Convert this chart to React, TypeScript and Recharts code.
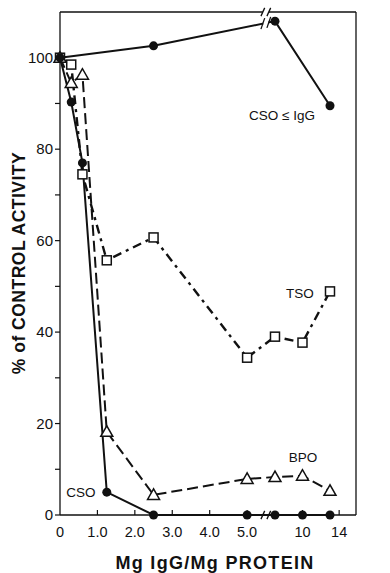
import { LineChart, Line, XAxis, YAxis, ReferenceLine } from 'recharts';

const FONT = '"Liberation Sans", Arial, Helvetica, sans-serif';
const INK = '#111';

// CSO + pre-immune IgG (control)
const csoIgGDose = [0, 2.5, 7, 13];
const csoIgGActivity = [100, 102.6, 108, 89.5];

// mg IgG / mg protein
const dose = [0, 0.3, 0.6, 1.25, 2.5, 5, 7, 10, 13];
const csoActivity = [100, 90.3, 77, 5, 0, 0, 0, 0, 0];
const bpoActivity = [100, 94.5, 96.3, 18.2, 4.4, 7.9, 8.3, 8.6, 5.3];
const tsoActivity = [100, 98.5, 74.5, 55.7, 60.7, 34.4, 39, 37.7, 48.9];

const xTicks = [0, 1, 2, 3, 4, 5, 10, 14];
const xTickLabels = ['0', '1.0', '2.0', '3.0', '4.0', '5.0', '10', '14'];
const topTicks = [1, 2, 3, 4, 5, 10];
const yTicks = [0, 10, 20, 30, 40, 50, 60, 70, 80, 90, 100];

// broken x axis: linear up to 5.5, then compressed from 6 on
const BREAK_AT = 5.5;
const RESUME_AT = 6;
const SQUEEZE = 0.245;
const X_MAX = 7.91;
const toAxis = (v: number) =>
  v <= BREAK_AT ? v : BREAK_AT + (v - RESUME_AT) * SQUEEZE;

const rows = (xs: number[], ys: number[]) =>
  xs.map((x, i) => ({ x: toAxis(x), y: ys[i] }));

const csoIgGData = rows(csoIgGDose, csoIgGActivity);
const csoData = rows(dose, csoActivity);
const bpoData = rows(dose, bpoActivity);
const tsoData = rows(dose, tsoActivity);

const yTickText = { fontFamily: FONT, fontSize: 15, fill: INK };
const xTickText = { fontFamily: FONT, fontSize: 14.5, fill: INK };

function LeftTick({ x, y, payload }: any) {
  return (
    <g>
      <line x1={x - 5} y1={y} x2={x} y2={y} stroke={INK} strokeWidth={1.2} />
      {payload.value % 20 === 0 && (
        <text x={x - 7} y={y} dy={5} textAnchor="end" {...yTickText}>
          {payload.value}
        </text>
      )}
    </g>
  );
}

function RightTick({ x, y, payload }: any) {
  return (
    <g>
      <line x1={x - 5} y1={y} x2={x + 1} y2={y} stroke={INK} strokeWidth={1.2} />
      {payload.value % 20 === 0 && (
        <text x={x + 6} y={y} dy={5} textAnchor="start" {...yTickText}>
          {payload.value}
        </text>
      )}
    </g>
  );
}

function BottomTick({ x, y, index }: any) {
  return (
    <g>
      {index > 0 && <line x1={x} y1={y} x2={x} y2={y - 5} stroke={INK} strokeWidth={1.2} />}
      <text x={x} y={y} dy={22} textAnchor="middle" {...xTickText}>
        {xTickLabels[index]}
      </text>
    </g>
  );
}

function TopTick({ x, y }: any) {
  return <line x1={x} y1={y} x2={x} y2={y + 5} stroke={INK} strokeWidth={1.2} />;
}

const Circle = (p: any) => <circle key={p.index} cx={p.cx} cy={p.cy} r={4.5} fill={INK} />;
const Triangle = (p: any) => (
  <polygon
    key={p.index}
    points={`${p.cx},${p.cy - 6} ${p.cx - 6},${p.cy + 4.5} ${p.cx + 6},${p.cy + 4.5}`}
    fill="#fff"
    stroke={INK}
    strokeWidth={1.5}
  />
);
const Square = (p: any) => (
  <rect key={p.index} x={p.cx - 4.5} y={p.cy - 4.5} width={9} height={9} fill="#fff" stroke={INK} strokeWidth={1.5} />
);

const labelStyle = { fontFamily: FONT, fontSize: 13.5, fill: INK };

const seg = (x1: number, y1: number, x2: number, y2: number, key: string, color = INK, w = 1.3) => (
  <ReferenceLine
    key={key}
    xAxisId="bottom"
    yAxisId="left"
    segment={[{ x: x1, y: y1 }, { x: x2, y: y2 }]}
    stroke={color}
    strokeWidth={w}
    ifOverflow="visible"
  />
);

export default function App() {
  const gapL = BREAK_AT - 0.08;
  const gapR = BREAK_AT + 0.08;
  const lineYAt = (u: number) => {
    const a = csoIgGData[1];
    const b = csoIgGData[2];
    return a.y + ((u - a.x) / (b.x - a.x)) * (b.y - a.y);
  };
  return (
    <div style={{ position: 'absolute', left: 0, top: 0, background: '#fff' }}>
      <LineChart width={390} height={573} margin={{ top: 12, right: 0, bottom: 0, left: 0 }}>
        <XAxis
          xAxisId="bottom"
          type="number"
          dataKey="x"
          domain={[0, X_MAX]}
          ticks={xTicks.map(toAxis)}
          interval={0}
          height={58}
          axisLine={false}
          tickLine={false}
          tickSize={0}
          tickMargin={0}
          tick={<BottomTick />}
        />
        <XAxis
          xAxisId="top"
          orientation="top"
          type="number"
          dataKey="x"
          domain={[0, X_MAX]}
          ticks={topTicks.map(toAxis)}
          interval={0}
          height={0}
          axisLine={false}
          tickLine={false}
          tickSize={0}
          tickMargin={0}
          tick={<TopTick />}
        />
        <YAxis
          yAxisId="left"
          type="number"
          domain={[0, 110]}
          ticks={yTicks}
          interval={0}
          width={60}
          axisLine={{ stroke: INK, strokeWidth: 1.3 }}
          tickLine={false}
          tickSize={0}
          tickMargin={0}
          tick={<LeftTick />}
        />
        <YAxis
          yAxisId="right"
          orientation="right"
          type="number"
          domain={[0, 110]}
          ticks={yTicks}
          interval={0}
          width={34}
          axisLine={{ stroke: INK, strokeWidth: 1.3 }}
          tickLine={false}
          tickSize={0}
          tickMargin={0}
          tick={<RightTick />}
        />

        {seg(0, 0, gapL, 0, 'b1')}
        {seg(gapR, 0, X_MAX, 0, 'b2')}
        {seg(0, 110, gapL, 110, 't1')}
        {seg(gapR, 110, X_MAX, 110, 't2')}

        <Line xAxisId="bottom" yAxisId="left" data={csoIgGData} dataKey="y" stroke={INK} strokeWidth={2} dot={Circle} isAnimationActive={false} />
        <Line xAxisId="bottom" yAxisId="left" data={tsoData} dataKey="y" stroke={INK} strokeWidth={2.4} strokeDasharray="9 5 3 5" dot={Square} isAnimationActive={false} />
        <Line xAxisId="bottom" yAxisId="left" data={bpoData} dataKey="y" stroke={INK} strokeWidth={2} strokeDasharray="11 5" dot={Triangle} isAnimationActive={false} />
        <Line xAxisId="bottom" yAxisId="left" data={csoData} dataKey="y" stroke={INK} strokeWidth={2} dot={Circle} isAnimationActive={false} />

        {seg(gapL + 0.01, lineYAt(gapL + 0.01), gapR - 0.01, lineYAt(gapR - 0.01), 'gap', '#fff', 5)}
        {[gapL, gapR].map((u, i) => seg(u - 0.05, lineYAt(u) - 1.2, u + 0.05, lineYAt(u) + 1.2, 'l' + i))}
        {[gapL, gapR].map((u, i) => seg(u - 0.05, -0.9, u + 0.05, 0.9, 'bs' + i))}
        {[gapL, gapR].map((u, i) => seg(u - 0.05, 109.1, u + 0.05, 110.9, 'ts' + i))}

        <text x={282} y={120} textAnchor="middle" {...labelStyle}>CSO ≤ IgG</text>
        <text x={300} y={298} textAnchor="middle" {...labelStyle}>TSO</text>
        <text x={303} y={462} textAnchor="middle" {...labelStyle}>BPO</text>
        <text x={81} y={497} textAnchor="middle" {...labelStyle}>CSO</text>

        <text
          x={19}
          y={263}
          transform="rotate(-90 19 263)"
          textAnchor="middle"
          dominantBaseline="central"
          style={{ fontFamily: FONT, fontSize: 17.5, fontWeight: 700, letterSpacing: 0.5 }}
          fill={INK}
        >
          % of CONTROL ACTIVITY
        </text>
        <text
          x={215}
          y={569}
          textAnchor="middle"
          style={{ fontFamily: FONT, fontSize: 18, fontWeight: 700, letterSpacing: 1.3 }}
          fill={INK}
        >
          Mg IgG/Mg PROTEIN
        </text>
      </LineChart>
    </div>
  );
}
